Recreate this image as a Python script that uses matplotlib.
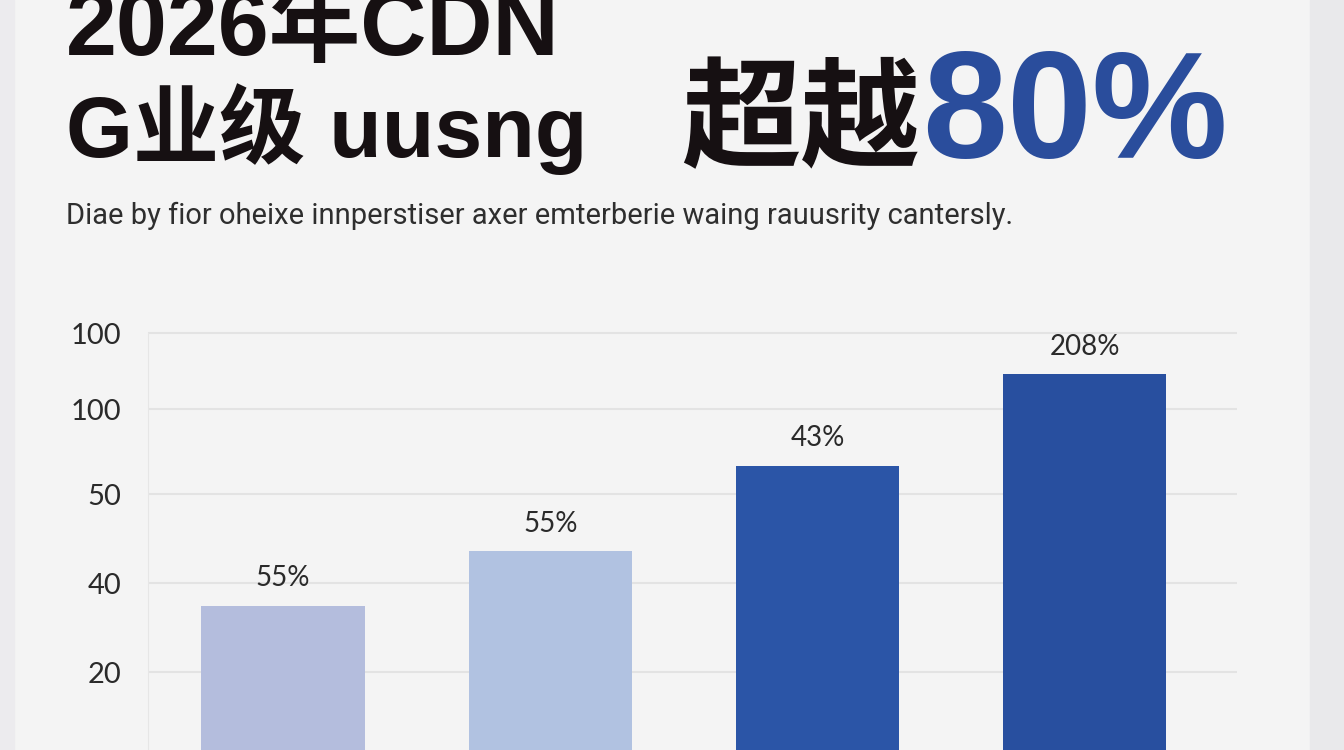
#Bar chart of CDN usage share with big headline
import numpy as np
import matplotlib.pyplot as plt
from matplotlib.patches import Rectangle

bar_names = ['A', 'B', 'C', 'D']
bar_values = [35.6, 48.5, 68.6, 90.3]
bar_labels = ['55%', '55%', '43%', '208%']
bar_colors = ['#b4bddd', '#b1c2e1', '#2b55a7', '#284f9f']
tick_pos = [20, 41, 62, 82, 100]
tick_labels = ['20', '40', '50', '100', '100']

title_line1 = '2026年CDN'
title_line2 = 'G业级 uusng'
headline_cn = '超越'
headline_num = '80%'
subtitle = 'Diae by fior oheixe innperstiser axer emterberie waing rauusrity cantersly.'

fig = plt.figure(figsize=(13.44, 7.5), dpi=100, facecolor='#f4f4f4')

# photo edges (slightly darker strips)
fig.patches.append(Rectangle((0, 0), 14/1344, 1, transform=fig.transFigure, color='#ecebee', zorder=0))
fig.patches.append(Rectangle((1310/1344, 0), 34/1344, 1, transform=fig.transFigure, color='#e9e9eb', zorder=0))

title_font = ['Liberation Sans', 'Noto Sans CJK SC', 'DejaVu Sans']
fig.text(66/1344, 0.9267, title_line1, fontsize=66, fontweight='bold', family=title_font, color='#161012')
fig.text(66/1344, 0.7907, title_line2, fontsize=62, fontweight='bold', family=title_font, color='#161012')
fig.text(681/1344, 0.789, headline_cn, fontsize=86, fontweight='bold', family=['Noto Sans CJK SC'], color='#161012')
fig.text(922/1344, 0.789, headline_num, fontsize=110, fontweight='bold', family=['Liberation Sans'], color='#2a4d9c')
fig.text(66/1344, 0.7013, subtitle, fontsize=21, family=['Roboto'], color='#2e2e2e')

ax = fig.add_axes([148/1344, -0.0093, (1237-148)/1344, 0.5933])
ax.set_facecolor('none')
x = np.arange(len(bar_names))
bars = ax.bar(x, bar_values, width=0.61, color=bar_colors, zorder=3)
for b, lab in zip(bars, bar_labels):
    ax.annotate(lab, (b.get_x() + b.get_width()/2, b.get_height()), xytext=(0, 20),
                textcoords='offset points', ha='center', va='center',
                fontsize=20, family=['Lato'], color='#2a2a2a')

ax.set_xlim(-0.505, 3.569)
ax.set_ylim(0, 105)
ax.set_yticks(tick_pos)
ax.set_yticklabels(tick_labels, fontsize=21, family=['Lato'], color='#2a2a2a')
ax.set_xticks([])
ax.tick_params(axis='y', length=0, pad=19)
ax.grid(axis='y', color='#e3e3e3', linewidth=1.5, zorder=0)
for s in ['top', 'right', 'bottom']:
    ax.spines[s].set_visible(False)
ax.spines['left'].set_color('#e6e6e6')
ax.spines['left'].set_bounds(0, 100)

fig.savefig('out.png', dpi=100, facecolor=fig.get_facecolor())
